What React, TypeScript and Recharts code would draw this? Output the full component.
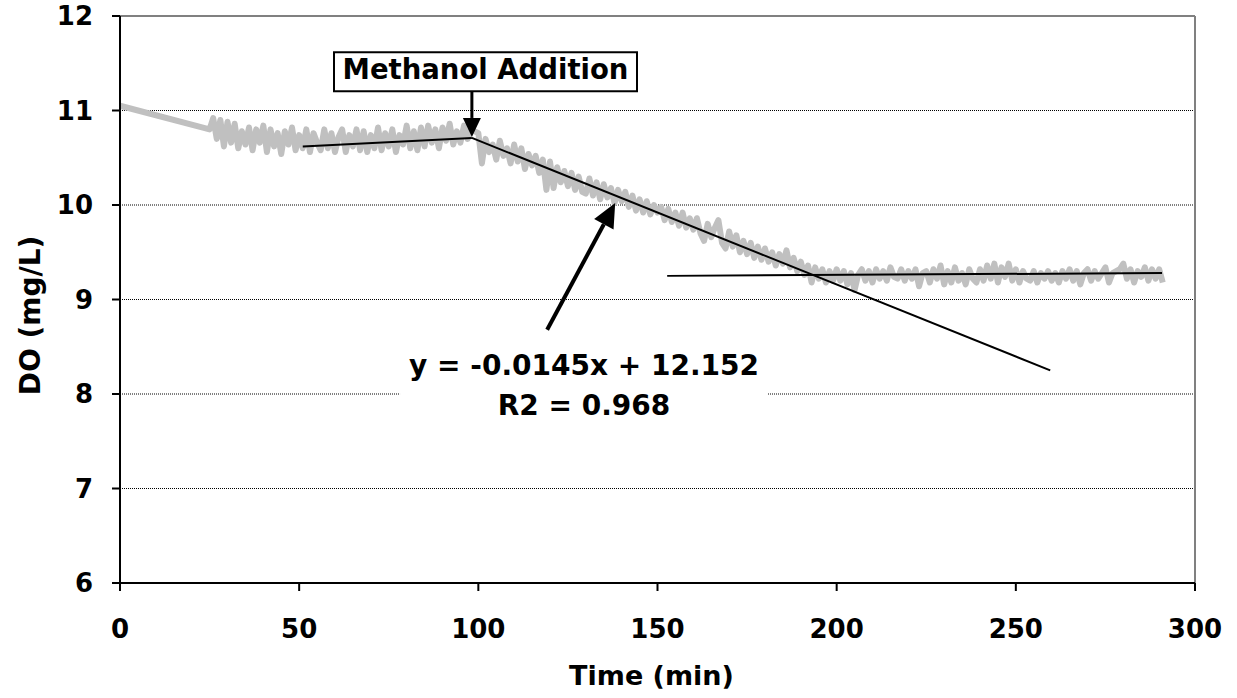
import { LineChart, Line, XAxis, YAxis, CartesianGrid, ReferenceLine, ReferenceDot, Label } from 'recharts'

const FONT = '"DejaVu Sans", Verdana, sans-serif'

// first reading, then the logger gives one DO value per minute from minute 25
const startReading = { t: 0, v: 11.05 }
const logStart = 25
const doReadings = [
  10.80, 10.92, 10.70, 10.90, 10.62, 10.88, 10.66, 10.86, 10.60, 10.78,
  10.64, 10.82, 10.58, 10.80, 10.66, 10.84, 10.56, 10.80, 10.62, 10.76,
  10.54, 10.78, 10.64, 10.82, 10.58, 10.74, 10.60, 10.80, 10.56, 10.76,
  10.66, 10.58, 10.80, 10.60, 10.76, 10.56, 10.72, 10.80, 10.56, 10.74,
  10.62, 10.80, 10.58, 10.78, 10.56, 10.74, 10.60, 10.82, 10.58, 10.76,
  10.62, 10.80, 10.56, 10.74, 10.64, 10.84, 10.60, 10.78, 10.58, 10.82,
  10.62, 10.84, 10.66, 10.80, 10.60, 10.82, 10.68, 10.86, 10.64, 10.78,
  10.66, 10.84, 10.70, 10.80, 10.78,
  10.76, 10.44, 10.70, 10.56, 10.64, 10.48, 10.68, 10.52, 10.60, 10.44,
  10.64, 10.46, 10.60, 10.38, 10.54, 10.42, 10.52, 10.34, 10.48, 10.16,
  10.46, 10.18, 10.40, 10.24, 10.36, 10.20, 10.34, 10.16, 10.30, 10.14,
  10.12, 10.28, 10.10, 10.24, 10.06, 10.22, 10.08, 10.18, 10.02, 10.16,
  10.04, 10.14, 9.98, 10.10, 9.94, 10.06, 9.92, 10.04, 9.90, 10.00,
  9.92, 9.98, 9.84, 9.96, 9.82, 9.92, 9.78, 9.92, 9.76, 9.86,
  9.74, 9.86, 9.70, 9.62, 9.80, 9.66, 9.76, 9.84, 9.60, 9.54,
  9.72, 9.56, 9.68, 9.50, 9.62, 9.48, 9.60, 9.44, 9.56, 9.42,
  9.54, 9.40, 9.50, 9.36, 9.48, 9.38, 9.52, 9.34, 9.44, 9.30,
  9.40, 9.26, 9.36, 9.18, 9.34, 9.22, 9.32, 9.18, 9.30, 9.20,
  9.32, 9.20, 9.30, 9.16, 9.28, 9.10, 9.26, 9.32, 9.20, 9.30,
  9.18, 9.32, 9.22, 9.30, 9.20, 9.34, 9.24, 9.22, 9.32, 9.20,
  9.30, 9.22, 9.32, 9.14, 9.28, 9.30, 9.18, 9.32, 9.22, 9.36,
  9.16, 9.30, 9.18, 9.34, 9.20, 9.28, 9.16, 9.32, 9.22, 9.18,
  9.32, 9.20, 9.36, 9.22, 9.38, 9.18, 9.34, 9.24, 9.38, 9.20,
  9.32, 9.18, 9.30, 9.22, 9.20, 9.30, 9.18, 9.28, 9.22, 9.30,
  9.20, 9.28, 9.18, 9.30, 9.22, 9.32, 9.20, 9.30, 9.16, 9.28,
  9.32, 9.20, 9.30, 9.22, 9.28, 9.34, 9.18, 9.28, 9.30, 9.32,
  9.38, 9.22, 9.32, 9.18, 9.30, 9.24, 9.34, 9.20, 9.32, 9.22,
  9.32, 9.18,
]

// hand-drawn trend lines
const preTrend = [{ t: 51, v: 10.62 }, { t: 98.2, v: 10.71 }]
const postTrend = [{ t: 98.2, v: 10.71 }, { t: 259.6, v: 8.25 }]
const plateauTrend = [{ t: 152.7, v: 9.25 }, { t: 290.8, v: 9.28 }]

const xTicks = [0, 50, 100, 150, 200, 250, 300]
const yTicks = [6, 7, 8, 9, 10, 11, 12]

const doSeries = [startReading, ...doReadings.map((v, i) => ({ t: logStart + i, v }))]

const tickStyle = { fill: '#000', fontSize: 26, fontWeight: 700, fontFamily: FONT }

function arrow(head: number, half: number, width: number) {
  return (p: any) => {
    const { x1, y1, x2, y2 } = p
    const dx = x2 - x1
    const dy = y2 - y1
    const len = Math.hypot(dx, dy) || 1
    const ux = dx / len
    const uy = dy / len
    const bx = x2 - ux * head
    const by = y2 - uy * head
    const px = -uy * half
    const py = ux * half
    return (
      <g>
        <line x1={x1} y1={y1} x2={bx} y2={by} stroke="#000" strokeWidth={width} />
        <polygon points={`${x2},${y2} ${bx + px},${by + py} ${bx - px},${by - py}`} fill="#000" />
      </g>
    )
  }
}

const methanolBox = (p: any) => (
  <g>
    <rect x={p.cx - 151.5} y={p.cy - 19.5} width={303} height={39} fill="#fff" stroke="#000" strokeWidth={2} />
    <text x={p.cx} y={p.cy + 7} textAnchor="middle" fontSize={27.5} fontWeight={700} fontFamily={FONT} fill="#000">
      Methanol Addition
    </text>
  </g>
)

const equationBox = (p: any) => (
  <g>
    <rect x={p.cx - 184} y={p.cy - 40} width={368} height={80} fill="#fff" />
    <text x={p.cx} y={p.cy - 12} textAnchor="middle" fontSize={28} fontWeight={700} fontFamily={FONT} fill="#000">
      y = -0.0145x + 12.152
    </text>
    <text x={p.cx} y={p.cy + 28} textAnchor="middle" fontSize={28} fontWeight={700} fontFamily={FONT} fill="#000">
      R2 = 0.968
    </text>
  </g>
)

export default function App() {
  return (
    <div style={{ position: 'absolute', left: 0, top: 0, background: '#fff' }}>
      <LineChart width={1237} height={698} margin={{ top: 16, right: 42, bottom: 0, left: 0 }}>
        <CartesianGrid vertical={false} stroke="#000" strokeDasharray="1 1" />
        <XAxis
          type="number"
          dataKey="t"
          domain={[0, 300]}
          ticks={xTicks}
          interval={0}
          height={115}
          stroke="#000"
          strokeWidth={2}
          tickSize={8}
          tickMargin={29}
          tick={tickStyle}
          allowDataOverflow
        >
          <Label
            content={({ viewBox }: any) => (
              <text
                x={viewBox.x + viewBox.width / 2 - 6}
                y={viewBox.y + 102}
                textAnchor="middle"
                fontSize={27}
                fontWeight={700}
                fontFamily={FONT}
                fill="#000"
              >
                Time (min)
              </text>
            )}
          />
        </XAxis>
        <YAxis
          type="number"
          dataKey="v"
          domain={[6, 12]}
          ticks={yTicks}
          interval={0}
          width={120}
          stroke="#000"
          strokeWidth={2}
          tickSize={8}
          tickMargin={19}
          tick={tickStyle}
          allowDataOverflow
        >
          <Label
            content={({ viewBox }: any) => {
              const x = viewBox.x + 30
              const y = viewBox.y + viewBox.height / 2 + 16
              return (
                <text
                  x={x}
                  y={y}
                  transform={`rotate(-90, ${x}, ${y})`}
                  textAnchor="middle"
                  dominantBaseline="central"
                  fontSize={28}
                  fontWeight={700}
                  fontFamily={FONT}
                  fill="#000"
                >
                  DO (mg/L)
                </text>
              )
            }}
          />
        </YAxis>
        <ReferenceLine y={12} stroke="#808080" strokeWidth={2} />
        <ReferenceLine x={300} stroke="#808080" strokeWidth={2} />
        <Line
          data={doSeries}
          dataKey="v"
          type="linear"
          stroke="#c0c0c0"
          strokeWidth={6}
          strokeLinejoin="round"
          dot={false}
          isAnimationActive={false}
        />
        <Line data={preTrend} dataKey="v" type="linear" stroke="#000" strokeWidth={2} dot={false} isAnimationActive={false} />
        <Line data={postTrend} dataKey="v" type="linear" stroke="#000" strokeWidth={2} dot={false} isAnimationActive={false} />
        <Line data={plateauTrend} dataKey="v" type="linear" stroke="#000" strokeWidth={2} dot={false} isAnimationActive={false} />
        <ReferenceDot x={129.5} y={8.07} shape={equationBox} />
        <ReferenceLine segment={[{ x: 119.2, y: 8.68 }, { x: 138.2, y: 10.02 }]} shape={arrow(24, 11, 4)} />
        <ReferenceDot x={102} y={11.41} shape={methanolBox} />
        <ReferenceLine segment={[{ x: 98.2, y: 11.2 }, { x: 98.2, y: 10.72 }]} shape={arrow(19, 9, 3)} />
      </LineChart>
    </div>
  )
}
